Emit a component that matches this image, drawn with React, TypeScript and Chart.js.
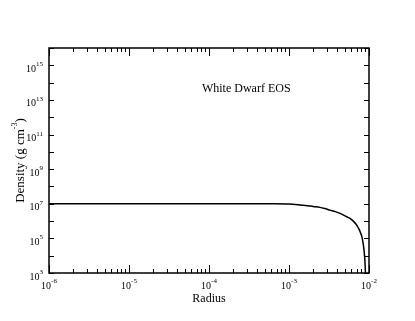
import React, { useEffect, useRef } from "react";
import { Chart, registerables } from "chart.js";

Chart.register(...registerables);

// Data
const radius = [1e-6, 1e-5, 1e-4, 3e-4, 6e-4, 1e-3, 1.2e-3, 1.37e-3, 1.7e-3, 2.0e-3, 2.44e-3, 2.8e-3, 3.25e-3, 3.8e-3, 4.34e-3, 5.26e-3, 5.79e-3, 6.5e-3, 7.02e-3, 7.5e-3, 7.87e-3, 8.1e-3, 8.5e-3, 8.84e-3, 9.0e-3, 9.05e-3];
const density = [1e7, 1e7, 1e7, 9.98e6, 9.9e6, 9.6e6, 9.2e6, 8.6e6, 7.8e6, 7.0e6, 6.2e6, 5.3e6, 4.3e6, 3.5e6, 2.8e6, 1.77e6, 1.43e6, 9.0e5, 5.9e5, 3.4e5, 2.0e5, 1.4e5, 4.2e4, 7.4e3, 1.5e3, 8e2];

const xTickExps = [-6, -5, -4, -3, -2];
const yTickExps = [3, 5, 7, 9, 11, 13, 15];
const yTickAll = [3, 4, 5, 6, 7, 8, 9, 10, 11, 12, 13, 14, 15, 16];
const xRange = [1e-6, 1e-2];
const yRange = [1e3, 1e16];

const titleText = "White Dwarf EOS";
const xTitle = "Radius";
const yTitleMain = "Density (g cm";
const yTitleSup = "-3";
const yTitleEnd = ")";

const SERIF = '"Liberation Serif", "Times New Roman", serif';

const framePlugin = {
  id: "framePlugin",
  afterDraw(chart: any) {
    const ctx: CanvasRenderingContext2D = chart.ctx;
    const { left, right, top, bottom } = chart.chartArea;
    const xs = chart.scales.x;
    const ys = chart.scales.y;
    ctx.save();
    ctx.strokeStyle = "#000";
    ctx.fillStyle = "#000";
    ctx.lineWidth = 1.5;
    ctx.strokeRect(left, top, right - left, bottom - top);

    // x ticks (major + minor), inward on bottom and top
    ctx.lineWidth = 1;
    for (let e = xTickExps[0]; e < xTickExps[xTickExps.length - 1] + 1; e++) {
      for (let m = 1; m <= 9; m++) {
        const v = m * Math.pow(10, e);
        if (v > xRange[1] * 1.0001) continue;
        const px = Math.round(xs.getPixelForValue(v)) + 0.5;
        const len = m === 1 ? 8 : 4;
        ctx.beginPath();
        ctx.moveTo(px, bottom);
        ctx.lineTo(px, bottom - len);
        ctx.moveTo(px, top);
        ctx.lineTo(px, top + len);
        ctx.stroke();
      }
    }
    // y ticks, inward on left and right
    for (const e of yTickAll) {
      const py = Math.round(ys.getPixelForValue(Math.pow(10, e))) + 0.5;
      ctx.beginPath();
      ctx.moveTo(left, py);
      ctx.lineTo(left + 5, py);
      ctx.moveTo(right, py);
      ctx.lineTo(right - 5, py);
      ctx.stroke();
    }

    const baseFont = "10px " + SERIF;
    const supFont = "7px " + SERIF;
    ctx.textBaseline = "alphabetic";
    ctx.textAlign = "left";

    // x tick labels
    for (const e of xTickExps) {
      const px = xs.getPixelForValue(Math.pow(10, e));
      ctx.font = baseFont;
      const w1 = ctx.measureText("10").width;
      ctx.font = supFont;
      const w2 = ctx.measureText(String(e)).width;
      const x0 = px - (w1 + w2) / 2;
      ctx.font = baseFont;
      ctx.fillText("10", x0, bottom + 16);
      ctx.font = supFont;
      ctx.fillText(String(e), x0 + w1, bottom + 9.5);
    }
    // y tick labels
    for (const e of yTickExps) {
      const py = ys.getPixelForValue(Math.pow(10, e));
      ctx.font = baseFont;
      const w1 = ctx.measureText("10").width;
      ctx.font = supFont;
      const w2 = ctx.measureText(String(e)).width;
      const x0 = left - 6 - (w1 + w2);
      ctx.font = baseFont;
      ctx.fillText("10", x0, py + 6.5);
      ctx.font = supFont;
      ctx.fillText(String(e), x0 + w1, py + 1);
    }

    // x title
    ctx.font = "12px " + SERIF;
    ctx.textAlign = "center";
    ctx.fillText(xTitle, (left + right) / 2, bottom + 29);

    // in-plot title
    ctx.textAlign = "left";
    ctx.fillText(titleText, left + 0.478 * (right - left), top + 43.5);

    // y title, rotated
    ctx.save();
    ctx.translate(left - 25, (top + bottom) / 2);
    ctx.rotate(-Math.PI / 2);
    const mainFont = "13px " + SERIF;
    const sFont = "8px " + SERIF;
    ctx.font = mainFont;
    const a = ctx.measureText(yTitleMain).width;
    const c = ctx.measureText(yTitleEnd).width;
    ctx.font = sFont;
    const b = ctx.measureText(yTitleSup).width;
    const total = a + b + c;
    let x = -total / 2;
    ctx.textAlign = "left";
    ctx.font = mainFont;
    ctx.fillText(yTitleMain, x, 0);
    x += a;
    ctx.font = sFont;
    ctx.fillText(yTitleSup, x, -7.5);
    x += b;
    ctx.font = mainFont;
    ctx.fillText(yTitleEnd, x, 0);
    ctx.restore();

    ctx.restore();
  },
};

export default function App() {
  const ref = useRef<HTMLCanvasElement | null>(null);
  useEffect(() => {
    if (!ref.current) return;
    const chart = new Chart(ref.current, {
      type: "line",
      data: {
        datasets: [
          {
            data: radius.map((r, i) => ({ x: r, y: density[i] })),
            borderColor: "#000",
            borderWidth: 1.5,
            pointRadius: 0,
            fill: false,
            cubicInterpolationMode: "monotone",
          },
        ],
      },
      options: {
        responsive: false,
        animation: false,
        layout: { padding: { left: 49, right: 46, top: 48, bottom: 48 } },
        plugins: { legend: { display: false }, tooltip: { enabled: false } },
        scales: {
          x: { type: "logarithmic", min: xRange[0], max: xRange[1], display: false },
          y: { type: "logarithmic", min: yRange[0], max: yRange[1], display: false },
        },
      },
      plugins: [framePlugin],
    });
    return () => chart.destroy();
  }, []);
  return (
    <div style={{ position: "absolute", left: 0, top: 0, width: 415, height: 321, background: "#fff", overflow: "hidden" }}>
      <canvas ref={ref} width={415} height={321} />
    </div>
  );
}
